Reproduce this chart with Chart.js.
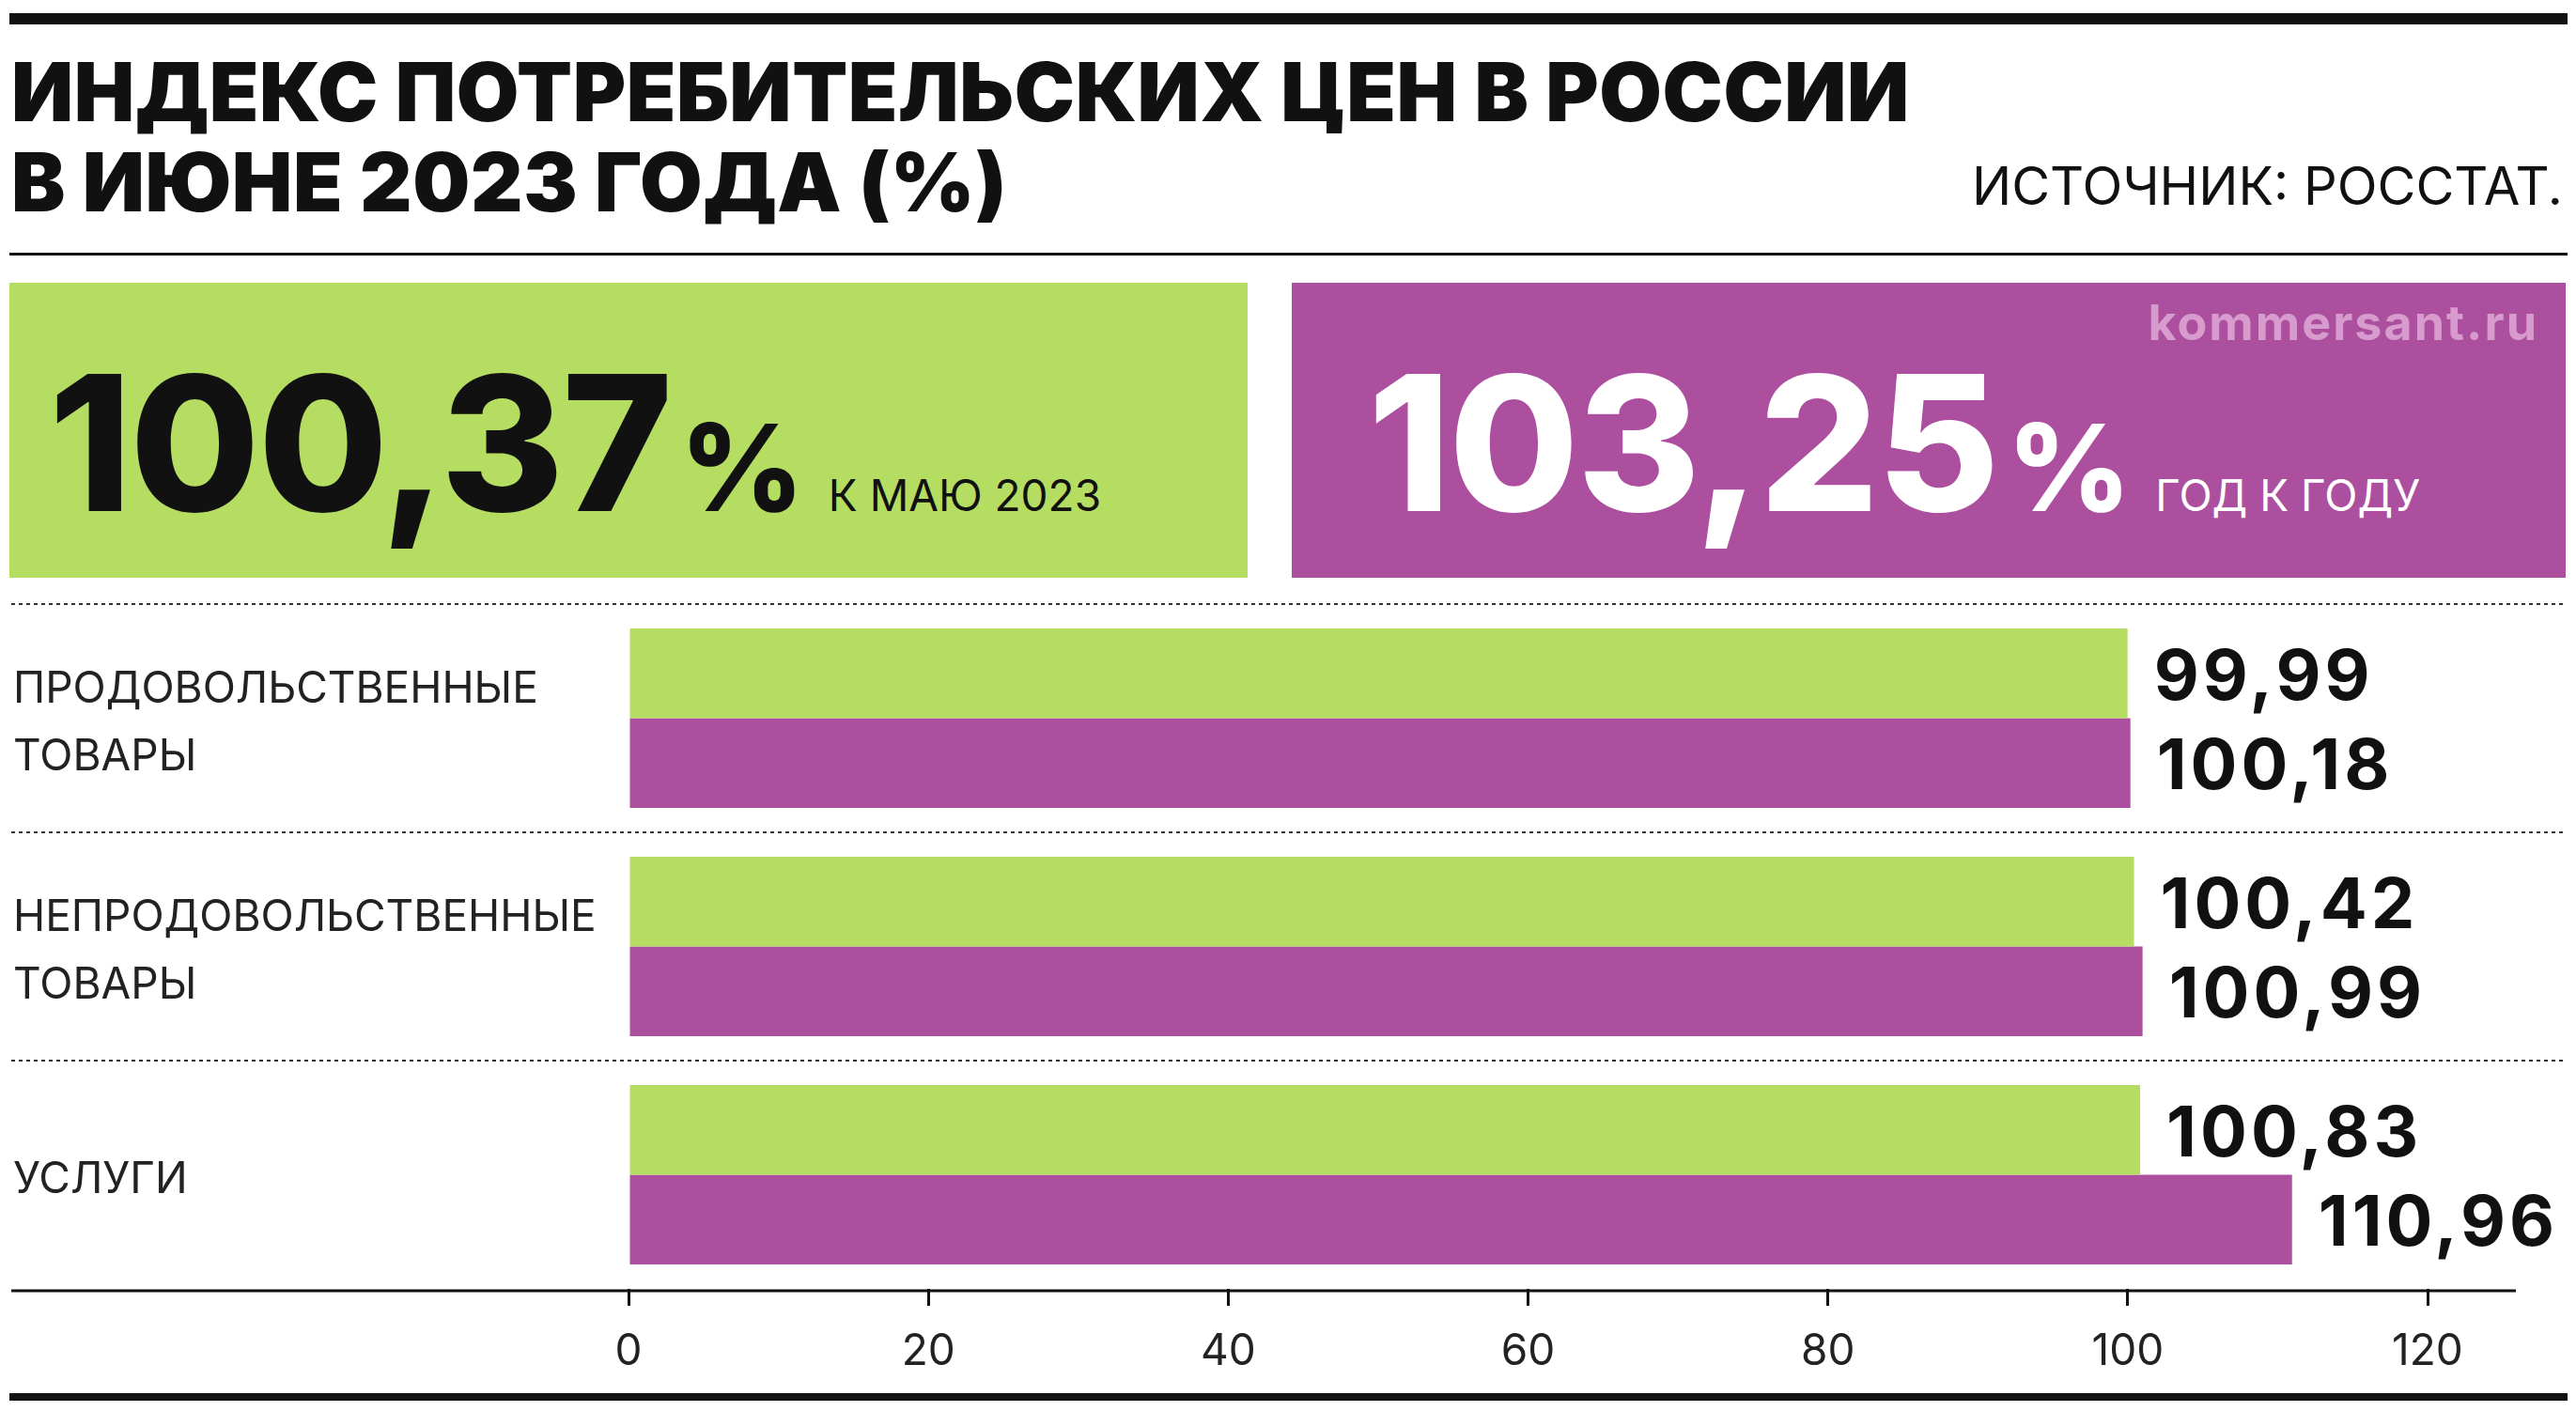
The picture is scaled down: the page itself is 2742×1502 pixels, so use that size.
<!DOCTYPE html>
<html>
<head>
<meta charset="utf-8">
<script src="https://cdn.jsdelivr.net/npm/chart.js@4"></script>
<style>
  body { margin: 0; width: 2742px; height: 1502px; background: #fff; position: relative; overflow: hidden; font-family: Inter, "Noto Sans", sans-serif; color: #111; }
  .abs { position: absolute; }
  .title { left: 12px; top: 50px; font-size: 86px; font-weight: 900; line-height: 96px; letter-spacing: 0.6px; }
  .src { right: 14px; top: 164px; font-size: 56px; font-weight: 400; }
  .box { top: 301px; height: 314px; }
  .big { font-size: 200px; font-weight: 800; letter-spacing: -2px; }
  .pct { font-size: 128px; font-weight: 800; margin-left: 10px; }
  .sub { font-size: 46px; font-weight: 400; margin-left: 26px; }
</style>
</head>
<body>
<div class="abs" style="left:10px;top:14px;width:2723px;height:12px;background:#111"></div>
<div class="abs title">ИНДЕКС ПОТРЕБИТЕЛЬСКИХ ЦЕН В РОССИИ<br>В ИЮНЕ 2023 ГОДА (%)</div>
<div class="abs src">ИСТОЧНИК: РОССТАТ.</div>
<div class="abs" style="left:10px;top:269px;width:2723px;height:3px;background:#111"></div>

<div class="abs box" style="left:10px;width:1318px;background:#b5dd62"></div>
<div class="abs box" style="left:1375px;width:1356px;background:#ad4f9f"></div>
<div class="abs" style="right:40px;top:312px;font-size:52px;font-weight:700;color:#d79ccd;letter-spacing:2px">kommersant.ru</div>
<div class="abs" style="left:52px;top:350px;white-space:nowrap;color:#111">
  <span class="big">100,37</span><span class="pct">%</span><span class="sub">К МАЮ 2023</span>
</div>
<div class="abs" style="left:1456px;top:350px;white-space:nowrap;color:#fff">
  <span class="big">103,25</span><span class="pct">%</span><span class="sub">ГОД К ГОДУ</span>
</div>

<div class="abs" style="left:0;top:620px;width:2742px;height:860px"><canvas id="c"></canvas></div>
<div class="abs" style="left:10px;top:1483px;width:2723px;height:8px;background:#111"></div>

<script>
const categories = [["ПРОДОВОЛЬСТВЕННЫЕ", "ТОВАРЫ"], ["НЕПРОДОВОЛЬСТВЕННЫЕ", "ТОВАРЫ"], ["УСЛУГИ"]];
const monthValues = [99.99, 100.42, 100.83];
const yearValues = [100.18, 100.99, 110.96];
const xTicks = [0, 20, 40, 60, 80, 100, 120];

const fmt = v => v.toFixed(2).replace(".", ",");

const decor = {
  id: "decor",
  afterDatasetsDraw(chart) {
    const ctx = chart.ctx;
    const y = chart.scales.y;
    const area = chart.chartArea;
    const band = (area.bottom - area.top) / categories.length;
    ctx.save();
    // dashed separators
    ctx.strokeStyle = "#333";
    ctx.lineWidth = 2;
    ctx.setLineDash([4, 4]);
    for (let i = 0; i < categories.length; i++) {
      const yy = area.top + band * i;
      ctx.beginPath(); ctx.moveTo(12, yy); ctx.lineTo(2730, yy); ctx.stroke();
    }
    ctx.setLineDash([]);
    // axis line
    ctx.strokeStyle = "#111";
    ctx.lineWidth = 3;
    ctx.beginPath(); ctx.moveTo(12, area.bottom + 2); ctx.lineTo(2678, area.bottom + 2); ctx.stroke();
    // category labels
    ctx.fillStyle = "#222";
    ctx.font = "46px Inter, 'Noto Sans', sans-serif";
    ctx.textBaseline = "middle";
    ctx.textAlign = "left";
    categories.forEach((lines, i) => {
      const cy = y.getPixelForValue(i);
      lines.forEach((t, j) => {
        ctx.fillText(t, 14, cy + (j - (lines.length - 1) / 2) * 72 + 6);
      });
    });
    // value labels
    ctx.fillStyle = "#111";
    ctx.font = "700 74px Inter, 'Noto Sans', sans-serif";
    ctx.letterSpacing = "4px";
    chart.data.datasets.forEach((ds, di) => {
      chart.getDatasetMeta(di).data.forEach((bar, i) => {
        ctx.fillText(fmt(ds.data[i]), bar.x + 28, bar.y + 6);
      });
    });
    ctx.restore();
  }
};

new Chart(document.getElementById("c"), {
  type: "bar",
  data: {
    labels: categories.map(c => c.join(" ")),
    datasets: [
      { data: monthValues, backgroundColor: "#b5dd62" },
      { data: yearValues, backgroundColor: "#ad4f9f" }
    ]
  },
  options: {
    indexAxis: "y",
    responsive: true,
    maintainAspectRatio: false,
    animation: false,
    categoryPercentage: 0.786,
    barPercentage: 1,
    layout: { padding: { left: 669, right: 158, top: 23, bottom: 0 } },
    plugins: { legend: { display: false }, tooltip: { enabled: false } },
    scales: {
      x: {
        min: 0, max: 120,
        afterBuildTicks: s => { s.ticks = xTicks.map(v => ({ value: v })); },
        afterFit: s => { s.height = 108; },
        ticks: { color: "#222", font: { size: 46, family: "Inter" }, padding: 22 },
        grid: { drawOnChartArea: false, drawTicks: true, tickLength: 18, color: "#111", lineWidth: 3 },
        border: { display: false }
      },
      y: { display: false }
    }
  },
  plugins: [decor]
});
</script>
</body>
</html>
